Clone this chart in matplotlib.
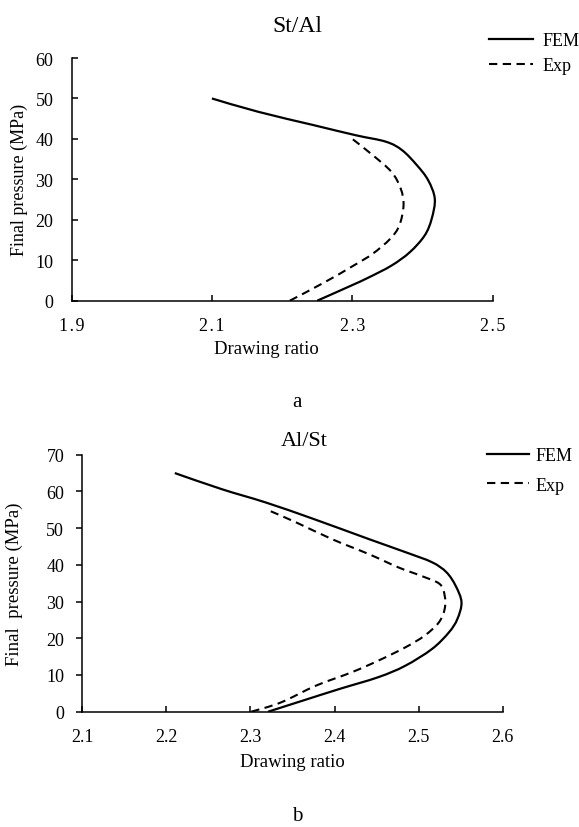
import matplotlib
matplotlib.use("Agg")
import matplotlib.pyplot as plt
from matplotlib.path import Path
from matplotlib.patches import PathPatch
from matplotlib.lines import Line2D

plt.rcParams['font.family'] = ['Liberation Serif', 'DejaVu Serif']

# Panel a: St/Al
a_fem_ratio = [2.250, 2.298, 2.324, 2.356, 2.382, 2.403, 2.413, 2.4175, 2.408,
               2.392, 2.371, 2.348, 2.305, 2.245, 2.166, 2.100]
a_fem_pressure = [0, 3.7, 5.8, 8.7, 12.0, 16.1, 20.2, 25.2, 29.8,
                  33.5, 37.2, 39.3, 40.9, 43.4, 46.7, 50]
a_exp_ratio = [2.211, 2.260, 2.302, 2.329, 2.354, 2.367, 2.373, 2.369, 2.356,
               2.329, 2.300]
a_exp_pressure = [0, 4.5, 8.7, 11.6, 15.3, 18.6, 23.6, 27.7, 31.8, 36.0, 40.0]
a_xticks = [1.9, 2.1, 2.3, 2.5]
a_xticklabels = ["1\u200a.\u200a9", "2\u200a.\u200a1", "2\u200a.\u200a3", "2\u200a.\u200a5"]
a_yticks = [0, 10, 20, 30, 40, 50, 60]

# Panel b: Al/St
b_fem_ratio = [2.321, 2.362, 2.406, 2.452, 2.484, 2.516, 2.536, 2.546, 2.551,
               2.544, 2.533, 2.516, 2.485, 2.441, 2.375, 2.318, 2.266, 2.210]
b_fem_pressure = [0, 3.0, 6.2, 9.4, 12.5, 17.1, 21.6, 25.2, 29.8,
                  34.3, 38.0, 40.7, 43.4, 47.0, 52.5, 57.0, 60.6, 65]
b_exp_ratio = [2.301, 2.336, 2.378, 2.420, 2.452, 2.484, 2.507, 2.524, 2.531,
               2.531, 2.525, 2.503, 2.476, 2.441, 2.397, 2.354, 2.320]
b_exp_pressure = [0, 2.5, 7.1, 10.7, 13.9, 17.5, 20.7, 24.3, 28.0,
                  31.6, 34.8, 37.0, 39.3, 42.9, 47.0, 51.6, 55]
b_xticks = [2.1, 2.2, 2.3, 2.4, 2.5, 2.6]
b_xticklabels = ["2.1", "2.2", "2.3", "2.4", "2.5", "2.6"]
b_yticks = [0, 10, 20, 30, 40, 50, 60, 70]

W, H = 579, 828
fig = plt.figure(figsize=(W / 100, H / 100), dpi=100)


def frac_box(left, top, right, bottom):
    return [left / W, 1 - bottom / H, (right - left) / W, (bottom - top) / H]


def smooth_curve(ax, xs, ys, **kw):
    """Smoothed scatter line: cubic Bezier segments through every point."""
    pts = list(zip(xs, ys))
    n = len(pts)
    verts = [pts[0]]
    codes = [Path.MOVETO]
    for i in range(n - 1):
        p0 = pts[i - 1] if i > 0 else pts[i]
        p1 = pts[i]
        p2 = pts[i + 1]
        p3 = pts[i + 2] if i + 2 < n else pts[i + 1]
        c1 = (p1[0] + (p2[0] - p0[0]) / 6, p1[1] + (p2[1] - p0[1]) / 6)
        c2 = (p2[0] - (p3[0] - p1[0]) / 6, p2[1] - (p3[1] - p1[1]) / 6)
        verts += [c1, c2, p2]
        codes += [Path.CURVE4] * 3
    patch = PathPatch(Path(verts, codes), fill=False, transform=ax.transData, **kw)
    ax.add_patch(patch)
    return patch


def style_axes(ax, ydir):
    for s in ("top", "right"):
        ax.spines[s].set_visible(False)
    for s in ("left", "bottom"):
        ax.spines[s].set_linewidth(1.1)
        ax.spines[s].set_color("black")
    ax.tick_params(axis="x", direction="in", length=4, width=1.1,
                   labelsize=13, pad=12)
    ax.tick_params(axis="y", direction=ydir, length=4, width=1.1,
                   labelsize=13, pad=13 if ydir == "in" else 9)


solid_kw = dict(edgecolor="black", linewidth=1.6, capstyle="butt")
dash_kw = dict(edgecolor="black", linewidth=1.5, linestyle=(0, (4, 2.6)))


def legend_handles():
    return [Line2D([], [], color="black", lw=1.6, label="FEM"),
            Line2D([], [], color="black", lw=1.5, linestyle=(0, (4, 2.6)), label="Exp")]


# ---- panel a
ax1 = fig.add_axes(frac_box(71.5, 59, 492.7, 301.7))
smooth_curve(ax1, a_fem_ratio, a_fem_pressure, **solid_kw)
smooth_curve(ax1, a_exp_ratio, a_exp_pressure, **dash_kw)
ax1.set_xlim(1.9, 2.5)
ax1.set_ylim(0, 60)
ax1.set_xticks(a_xticks)
ax1.set_xticklabels(a_xticklabels)
ax1.set_yticks(a_yticks)
style_axes(ax1, "in")
ax1.set_ylabel("Final pressure (MPa)", fontsize=13)
ax1.yaxis.set_label_coords(-0.103, 0.5)
fig.text(266 / W, 1 - 350 / H, "Drawing ratio", ha="center", va="center", fontsize=13.5)
fig.text(297 / W, 1 - 27 / H, "St/Al", ha="center", va="center", fontsize=17)
fig.text(297 / W, 1 - 403 / H, "a", ha="center", va="center", fontsize=15)
ax1.legend(handles=legend_handles(), loc="upper left", bbox_to_anchor=(489 / W, 1 - 33 / H),
           bbox_transform=fig.transFigure, frameon=False, fontsize=13,
           handlelength=2.45, handletextpad=0.5, labelspacing=0.45,
           borderpad=0, borderaxespad=0)

# ---- panel b
ax2 = fig.add_axes(frac_box(82.3, 455.7, 502.7, 712.7))
smooth_curve(ax2, b_fem_ratio, b_fem_pressure, **solid_kw)
smooth_curve(ax2, b_exp_ratio, b_exp_pressure, **dash_kw)
ax2.set_xlim(2.1, 2.6)
ax2.set_ylim(0, 70)
ax2.set_xticks(b_xticks)
ax2.set_xticklabels(b_xticklabels)
ax2.set_yticks(b_yticks)
style_axes(ax2, "out")
ax2.set_ylabel("Final  pressure (MPa)", fontsize=13.5)
ax2.yaxis.set_label_coords(-0.141, 0.5)
fig.text(292 / W, 1 - 763 / H, "Drawing ratio", ha="center", va="center", fontsize=13.5)
fig.text(304 / W, 1 - 442 / H, "Al/St", ha="center", va="center", fontsize=16)
fig.text(297 / W, 1 - 817 / H, "b", ha="center", va="center", fontsize=15)
ax2.legend(handles=legend_handles(), loc="upper left", bbox_to_anchor=(487 / W, 1 - 448 / H),
           bbox_transform=fig.transFigure, frameon=False, fontsize=13,
           handlelength=2.35, handletextpad=0.35, labelspacing=0.7,
           borderpad=0, borderaxespad=0)

fig.savefig("out.png", dpi=100)
